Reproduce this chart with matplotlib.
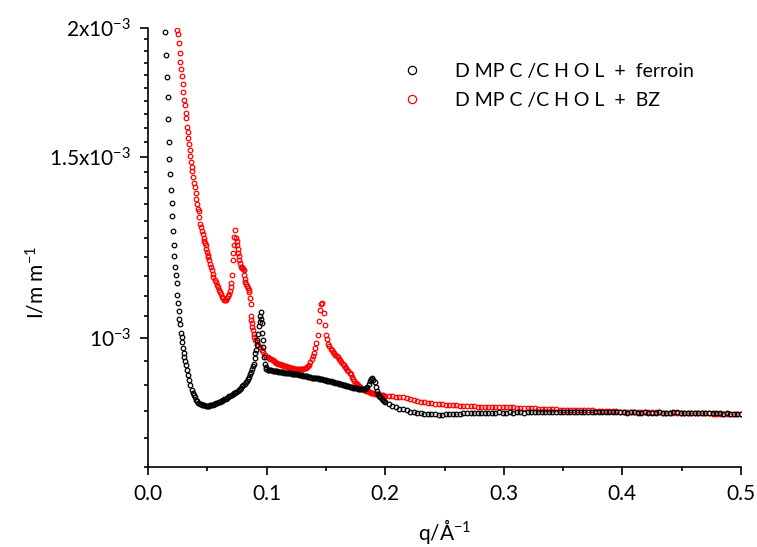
import numpy as np
import matplotlib
matplotlib.use("Agg")
import matplotlib.pyplot as plt
from matplotlib.ticker import FixedLocator, FixedFormatter, MultipleLocator, FormatStrFormatter

plt.rcParams['font.family'] = ['Lato', 'DejaVu Sans']

# intensity in units of 1e-3 mm^-1
# black: DMPC/CHOL + ferroin, low q part
q_black_low = [0.0143, 0.0152, 0.0158, 0.0166, 0.0171, 0.0177, 0.0180, 0.0186, 0.0191, 0.0200,
               0.0205, 0.0211, 0.0219, 0.0222, 0.0230, 0.0236, 0.0242, 0.0247, 0.0253, 0.0259,
               0.0264, 0.0272, 0.0278, 0.0284, 0.0289, 0.0295, 0.0301, 0.0306, 0.0312, 0.0318,
               0.0326, 0.0335, 0.0346, 0.0357, 0.0368, 0.0377, 0.0385, 0.0395, 0.0405, 0.0415,
               0.0425, 0.0435, 0.0445, 0.0455, 0.0465, 0.0475, 0.0485, 0.0495, 0.0505, 0.0515,
               0.0525, 0.0535, 0.0545, 0.0555, 0.0565, 0.0575, 0.0585, 0.0595, 0.0605, 0.0615,
               0.0625, 0.0635, 0.0645, 0.0655, 0.0665, 0.0675, 0.0685, 0.0695, 0.0705, 0.0715,
               0.0725, 0.0735, 0.0745, 0.0755, 0.0765, 0.0775, 0.0785, 0.0795, 0.0805, 0.0815,
               0.0825, 0.0835, 0.0845, 0.0855, 0.0864, 0.0872, 0.0880, 0.0887, 0.0894, 0.0899,
               0.0904, 0.0910, 0.0917, 0.0923, 0.0930, 0.0936, 0.0941, 0.0946, 0.0950, 0.0955,
               0.0959, 0.0964, 0.0968, 0.0972, 0.0978, 0.0984, 0.0991, 0.0998]
I_black_low = [1.984, 1.883, 1.794, 1.713, 1.633, 1.549, 1.492, 1.443, 1.392, 1.352,
               1.313, 1.272, 1.232, 1.202, 1.172, 1.152, 1.131, 1.101, 1.082, 1.062,
               1.043, 1.032, 1.012, 1.003, 0.991, 0.978, 0.967, 0.958, 0.950, 0.941,
               0.931, 0.921, 0.910, 0.900, 0.890, 0.885, 0.880, 0.876, 0.872, 0.869,
               0.866, 0.864, 0.863, 0.862, 0.861, 0.861, 0.860, 0.859, 0.859, 0.860,
               0.861, 0.861, 0.862, 0.863, 0.864, 0.865, 0.866, 0.867, 0.868, 0.869,
               0.870, 0.872, 0.873, 0.874, 0.875, 0.877, 0.878, 0.879, 0.880, 0.882,
               0.884, 0.885, 0.887, 0.888, 0.891, 0.893, 0.895, 0.898, 0.900, 0.903,
               0.906, 0.909, 0.913, 0.918, 0.923, 0.928, 0.934, 0.940, 0.945, 0.956,
               0.967, 0.975, 0.984, 0.997, 1.010, 1.028, 1.038, 1.050, 1.060, 1.045,
               1.034, 1.011, 0.995, 0.981, 0.959, 0.945, 0.937, 0.933]

# red: DMPC/CHOL + BZ, low q part
q_red_low = [0.0247, 0.0253, 0.0261, 0.0267, 0.0272, 0.0281, 0.0287, 0.0293, 0.0298, 0.0304,
             0.0309, 0.0318, 0.0323, 0.0329, 0.0335, 0.0340, 0.0346, 0.0352, 0.0357, 0.0363,
             0.0368, 0.0374, 0.0382, 0.0390, 0.0396, 0.0402, 0.0407, 0.0413, 0.0422, 0.0427,
             0.0433, 0.0441, 0.0447, 0.0453, 0.0461, 0.0468, 0.0475, 0.0481, 0.0487, 0.0492,
             0.0497, 0.0503, 0.0508, 0.0515, 0.0523, 0.0530, 0.0537, 0.0544, 0.0551, 0.0561,
             0.0571, 0.0580, 0.0588, 0.0598, 0.0607, 0.0614, 0.0621, 0.0631, 0.0641, 0.0650,
             0.0658, 0.0665, 0.0672, 0.0680, 0.0689, 0.0696, 0.0702, 0.0708, 0.0714, 0.0719,
             0.0723, 0.0728, 0.0735, 0.0742, 0.0748, 0.0753, 0.0757, 0.0761, 0.0766, 0.0770,
             0.0776, 0.0782, 0.0789, 0.0795, 0.0801, 0.0807, 0.0813, 0.0818, 0.0822, 0.0826,
             0.0834, 0.0841, 0.0848, 0.0854, 0.0860, 0.0866, 0.0866, 0.0870, 0.0874, 0.0879,
             0.0883, 0.0890, 0.0896, 0.0906, 0.0917, 0.0930, 0.0944, 0.0958, 0.0972, 0.0986,
             0.0998]
I_red_low = [1.990, 1.973, 1.933, 1.893, 1.853, 1.825, 1.796, 1.766, 1.735, 1.703,
             1.684, 1.655, 1.634, 1.604, 1.584, 1.565, 1.545, 1.523, 1.503, 1.484,
             1.466, 1.452, 1.433, 1.414, 1.403, 1.382, 1.366, 1.351, 1.336, 1.328,
             1.311, 1.291, 1.282, 1.272, 1.263, 1.252, 1.242, 1.237, 1.232, 1.222,
             1.212, 1.205, 1.198, 1.190, 1.181, 1.172, 1.164, 1.155, 1.147, 1.140,
             1.134, 1.127, 1.121, 1.115, 1.109, 1.103, 1.097, 1.093, 1.090, 1.090,
             1.090, 1.093, 1.098, 1.104, 1.111, 1.121, 1.131, 1.151, 1.191, 1.210,
             1.232, 1.254, 1.273, 1.252, 1.242, 1.232, 1.221, 1.211, 1.201, 1.191,
             1.182, 1.173, 1.172, 1.171, 1.167, 1.164, 1.153, 1.142, 1.135, 1.129,
             1.124, 1.119, 1.113, 1.108, 1.094, 1.079, 1.050, 1.042, 1.034, 1.026,
             1.018, 1.010, 1.002, 0.997, 0.991, 0.986, 0.980, 0.975, 0.969, 0.964,
             0.959]

# shared q grid for the high q part of both curves
q_high = [0.101, 0.102, 0.103, 0.104, 0.105, 0.106, 0.107, 0.108, 0.109, 0.110,
          0.111, 0.112, 0.113, 0.114, 0.115, 0.116, 0.117, 0.118, 0.119, 0.120,
          0.121, 0.122, 0.123, 0.124, 0.125, 0.126, 0.127, 0.128, 0.129, 0.130,
          0.131, 0.132, 0.133, 0.134, 0.135, 0.136, 0.137, 0.138, 0.139, 0.140,
          0.141, 0.142, 0.143, 0.144, 0.145, 0.146, 0.147, 0.148, 0.149, 0.150,
          0.151, 0.152, 0.153, 0.154, 0.155, 0.156, 0.157, 0.158, 0.159, 0.160,
          0.161, 0.162, 0.163, 0.164, 0.165, 0.166, 0.167, 0.168, 0.169, 0.170,
          0.171, 0.172, 0.173, 0.174, 0.175, 0.176, 0.177, 0.178, 0.179, 0.180,
          0.181, 0.182, 0.183, 0.184, 0.185, 0.186, 0.187, 0.188, 0.189, 0.190,
          0.191, 0.192, 0.193, 0.194, 0.195, 0.196, 0.197, 0.198, 0.199, 0.200,
          0.203, 0.206, 0.209, 0.212, 0.215, 0.218, 0.221, 0.224, 0.227, 0.230,
          0.233, 0.236, 0.239, 0.242, 0.245, 0.248, 0.251, 0.254, 0.257, 0.260,
          0.263, 0.266, 0.269, 0.272, 0.275, 0.278, 0.281, 0.284, 0.287, 0.290,
          0.293, 0.296, 0.299, 0.302, 0.305, 0.308, 0.311, 0.314, 0.317, 0.320,
          0.323, 0.326, 0.329, 0.332, 0.335, 0.338, 0.341, 0.344, 0.347, 0.350,
          0.353, 0.356, 0.359, 0.362, 0.365, 0.368, 0.371, 0.374, 0.377, 0.380,
          0.383, 0.386, 0.389, 0.392, 0.395, 0.398, 0.401, 0.404, 0.407, 0.410,
          0.413, 0.416, 0.419, 0.422, 0.425, 0.428, 0.431, 0.434, 0.437, 0.440,
          0.443, 0.446, 0.449, 0.452, 0.455, 0.458, 0.461, 0.464, 0.467, 0.470,
          0.473, 0.476, 0.479, 0.482, 0.485, 0.488, 0.491, 0.494, 0.497, 0.500]

I_black_high = [0.931, 0.931, 0.931, 0.931, 0.930, 0.930, 0.930, 0.929, 0.929, 0.928,
                0.928, 0.927, 0.927, 0.927, 0.926, 0.926, 0.926, 0.925, 0.925, 0.925,
                0.924, 0.924, 0.924, 0.923, 0.923, 0.923, 0.922, 0.922, 0.921, 0.921,
                0.920, 0.920, 0.919, 0.919, 0.918, 0.918, 0.917, 0.916, 0.916, 0.915,
                0.915, 0.914, 0.914, 0.913, 0.913, 0.912, 0.912, 0.911, 0.911, 0.910,
                0.909, 0.909, 0.908, 0.908, 0.907, 0.906, 0.906, 0.905, 0.905, 0.904,
                0.903, 0.903, 0.902, 0.901, 0.901, 0.900, 0.899, 0.899, 0.898, 0.897,
                0.896, 0.896, 0.895, 0.895, 0.894, 0.894, 0.893, 0.893, 0.892, 0.892,
                0.892, 0.892, 0.893, 0.894, 0.897, 0.903, 0.909, 0.913, 0.914, 0.911,
                0.906, 0.897, 0.889, 0.883, 0.879, 0.876, 0.873, 0.871, 0.869, 0.867,
                0.864, 0.860, 0.857, 0.854, 0.853, 0.851, 0.849, 0.848, 0.847, 0.846,
                0.845, 0.845, 0.844, 0.844, 0.843, 0.843, 0.844, 0.844, 0.845, 0.845,
                0.845, 0.846, 0.846, 0.846, 0.847, 0.847, 0.847, 0.846, 0.847, 0.847,
                0.847, 0.848, 0.847, 0.847, 0.848, 0.847, 0.848, 0.848, 0.847, 0.848,
                0.848, 0.849, 0.848, 0.848, 0.849, 0.848, 0.848, 0.849, 0.848, 0.848,
                0.849, 0.848, 0.848, 0.849, 0.848, 0.849, 0.849, 0.848, 0.849, 0.849,
                0.848, 0.849, 0.848, 0.848, 0.849, 0.848, 0.848, 0.847, 0.848, 0.848,
                0.847, 0.847, 0.848, 0.847, 0.847, 0.847, 0.848, 0.847, 0.847, 0.846,
                0.848, 0.848, 0.847, 0.846, 0.846, 0.847, 0.847, 0.846, 0.847, 0.847,
                0.846, 0.846, 0.846, 0.846, 0.845, 0.846, 0.845, 0.845, 0.844, 0.845]

I_red_high = [0.958, 0.956, 0.955, 0.954, 0.953, 0.951, 0.949, 0.947, 0.946, 0.945,
              0.944, 0.943, 0.942, 0.941, 0.940, 0.939, 0.938, 0.937, 0.937, 0.936,
              0.935, 0.935, 0.934, 0.934, 0.934, 0.933, 0.933, 0.933, 0.933, 0.934,
              0.934, 0.935, 0.936, 0.938, 0.940, 0.943, 0.948, 0.955, 0.961, 0.968,
              0.978, 0.990, 1.008, 1.040, 1.065, 1.080, 1.081, 1.058, 1.030, 1.008,
              0.998, 0.988, 0.982, 0.977, 0.973, 0.970, 0.967, 0.964, 0.962, 0.958,
              0.955, 0.952, 0.948, 0.944, 0.941, 0.938, 0.935, 0.932, 0.929, 0.926,
              0.924, 0.918, 0.912, 0.908, 0.905, 0.903, 0.901, 0.899, 0.897, 0.895,
              0.893, 0.891, 0.890, 0.889, 0.888, 0.887, 0.886, 0.885, 0.884, 0.884,
              0.883, 0.883, 0.882, 0.882, 0.881, 0.881, 0.880, 0.880, 0.879, 0.879,
              0.878, 0.878, 0.877, 0.877, 0.876, 0.875, 0.873, 0.871, 0.869, 0.868,
              0.867, 0.866, 0.865, 0.864, 0.863, 0.863, 0.862, 0.862, 0.861, 0.861,
              0.860, 0.860, 0.860, 0.859, 0.859, 0.858, 0.858, 0.858, 0.858, 0.858,
              0.857, 0.857, 0.857, 0.857, 0.857, 0.857, 0.856, 0.856, 0.856, 0.855,
              0.855, 0.855, 0.854, 0.854, 0.853, 0.853, 0.853, 0.853, 0.852, 0.852,
              0.852, 0.852, 0.851, 0.851, 0.851, 0.851, 0.851, 0.851, 0.850, 0.850,
              0.850, 0.850, 0.850, 0.850, 0.850, 0.849, 0.849, 0.849, 0.849, 0.849,
              0.848, 0.848, 0.848, 0.848, 0.848, 0.848, 0.848, 0.847, 0.847, 0.847,
              0.847, 0.847, 0.847, 0.847, 0.846, 0.846, 0.846, 0.846, 0.846, 0.846,
              0.846, 0.845, 0.845, 0.845, 0.845, 0.845, 0.845, 0.845, 0.845, 0.845]

y_ticks = [1e-3, 1.5e-3, 2e-3]
y_ticklabels = [r'$\mathregular{10^{-3}}$', r'$\mathregular{1.5x10^{-3}}$', r'$\mathregular{2x10^{-3}}$']

q_black = np.array(q_black_low + q_high)
I_black = np.array(I_black_low + I_black_high) * 1e-3
q_red = np.array(q_red_low + q_high)
I_red = np.array(I_red_low + I_red_high) * 1e-3

fig = plt.figure(figsize=(7.57, 5.47), dpi=100)
ax = fig.add_axes([148/757, 80/547, 593/757, 439/547])

ax.plot(q_red, I_red, linestyle='none', marker='o', mfc='none', mec='#ff0000',
        ms=3.3, mew=0.9, zorder=2, label='D MP C /C H O L  +  BZ')
ax.plot(q_black, I_black, linestyle='none', marker='o', mfc='none', mec='black',
        ms=3.3, mew=0.9, zorder=3, label='D MP C /C H O L  +  ferroin')

ax.set_yscale('log')
ax.set_xlim(0, 0.5)
ax.set_ylim(0.75e-3, 2e-3)
ax.yaxis.set_major_locator(FixedLocator(y_ticks))
ax.yaxis.set_major_formatter(FixedFormatter(y_ticklabels))
minor = [v * 1e-3 for v in np.arange(0.75, 2.0, 0.05) if abs(v - 1.0) > 1e-6 and abs(v - 1.5) > 1e-6]
ax.yaxis.set_minor_locator(FixedLocator(minor))
ax.yaxis.set_minor_formatter(FixedFormatter([''] * len(minor)))
ax.xaxis.set_major_locator(MultipleLocator(0.1))
ax.xaxis.set_minor_locator(MultipleLocator(0.05))
ax.xaxis.set_major_formatter(FormatStrFormatter('%.1f'))

for s in ['top', 'right']:
    ax.spines[s].set_visible(False)
for s in ['left', 'bottom']:
    ax.spines[s].set_linewidth(1.2)
ax.tick_params(which='major', direction='out', length=6, width=1.2, labelsize=15, pad=6)
ax.tick_params(which='minor', direction='out', length=3, width=1.2)

ax.set_xlabel(r'q/$\mathregular{\AA^{-1}}$', fontsize=15)
ax.xaxis.set_label_coords(0.5, -0.114)
ax.set_ylabel(r'I/m m$\mathregular{^{-1}}$', fontsize=15)
ax.yaxis.set_label_coords(-0.168, 0.42)

handles, labels = ax.get_legend_handles_labels()
leg = ax.legend(handles[::-1], labels[::-1], loc='upper left', frameon=False,
                bbox_to_anchor=(402/757, 1 - 63/547), bbox_transform=fig.transFigure,
                fontsize=14, markerscale=1.8, handlelength=1.0, handletextpad=1.75,
                labelspacing=0.6, borderaxespad=0, borderpad=0)

fig.savefig('out.png', dpi=100)
